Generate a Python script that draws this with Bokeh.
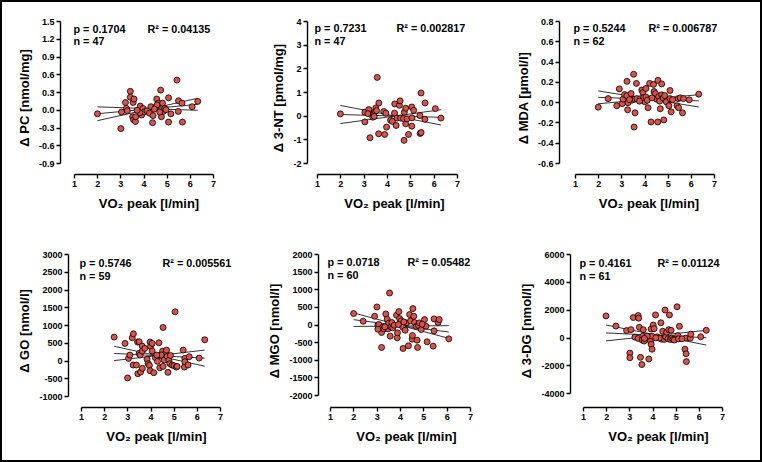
import numpy as np
from bokeh.plotting import figure
from bokeh.layouts import column, row
from bokeh.models import Label, Range1d, FixedTicker, NumeralTickFormatter
from bokeh.embed import file_html
from bokeh.resources import INLINE

FONT = "Liberation Sans"
RED = "#d9534a"

# ---------------- data ----------------
x_ticks = [1, 2, 3, 4, 5, 6, 7]
x_label = "VO₂ peak [l/min]"

pc_x = [1.99, 3.00, 3.03, 3.20, 3.24, 3.28, 3.41, 3.41, 3.53, 3.57, 3.51, 3.55, 3.63, 3.64, 3.84, 3.90,
        3.96, 4.01, 4.13, 4.24, 4.30, 4.37, 4.39, 4.50, 4.55, 4.62, 4.72, 4.75, 4.80, 4.83, 4.90, 5.06,
        5.06, 5.16, 5.42, 5.49, 5.48, 5.64, 5.66, 6.08, 6.32, 4.56, 4.45, 4.68, 3.82, 4.95, 3.70]
pc_y = [-0.06, -0.31, -0.03, 0.13, 0.03, -0.01, 0.32, 0.22, 0.13, 0.19, -0.11, -0.16, -0.19, -0.11, 0.07, -0.08,
        0.03, -0.03, -0.01, -0.05, 0.06, -0.21, -0.09, 0.05, 0.19, 0.12, 0.34, -0.11, 0.12, -0.02, 0.03, 0.21,
        -0.20, -0.06, 0.51, 0.16, -0.02, 0.12, -0.20, 0.06, 0.15, 0.09, 0.02, -0.03, -0.04, 0.01, 0.0]
pc_ticks = [-0.9, -0.6, -0.3, 0.0, 0.3, 0.6, 0.9, 1.2, 1.5]

nt_x = [1.98, 3.03, 3.03, 3.20, 3.25, 3.16, 3.37, 3.42, 3.47, 3.50, 3.53, 3.56, 3.63, 3.62, 3.84, 3.88,
        3.93, 3.96, 4.13, 4.21, 4.31, 4.30, 4.37, 4.41, 4.51, 4.54, 4.56, 4.69, 4.71, 4.72, 4.78, 4.78,
        4.84, 4.90, 5.04, 5.05, 5.04, 5.12, 5.39, 5.40, 5.44, 5.44, 5.61, 5.60, 6.05, 6.29, 3.43]
nt_y = [0.10, 0.17, -0.24, 0.28, -0.91, 0.11, -0.04, 0.11, 0.21, 0.35, 0.24, 1.64, 0.56, -0.74, 0.20, -0.77,
        0.13, -0.46, -0.17, -0.22, 0.52, 0.13, -0.39, -0.08, 0.46, 0.65, -0.08, -0.10, -1.02, 0.17, 0.34, -0.32,
        -0.11, -0.77, 0.39, -0.07, -0.42, 0.25, 0.03, -0.73, -0.69, 0.98, 0.56, -0.13, 0.32, -0.08, -0.01]
nt_ticks = [-2, -1, 0, 1, 2, 3, 4]

mda_x = [1.98, 2.41, 2.89, 2.78, 3.02, 3.05, 3.12, 3.22, 3.22, 3.25, 3.27, 3.40, 3.44, 3.51, 3.56, 3.57,
         3.53, 3.63, 3.65, 3.81, 3.86, 3.91, 3.93, 3.99, 3.94, 4.04, 4.04, 4.10, 4.13, 4.20, 4.26, 4.37,
         4.39, 4.45, 4.50, 4.55, 4.56, 4.59, 4.63, 4.66, 4.72, 4.72, 4.78, 4.81, 4.85, 4.92, 5.03, 5.08,
         5.08, 5.13, 5.38, 5.43, 5.45, 5.52, 5.62, 5.66, 5.91, 6.32, 5.19, 4.30, 3.33, 3.76]
mda_y = [-0.044, 0.04, 0.136, -0.03, -0.01, 0.035, 0.08, 0.07, 0.21, -0.07, 0.0, 0.09, 0.025, 0.28, 0.035, -0.10,
         -0.24, 0.19, 0.04, 0.04, 0.125, 0.10, 0.035, 0.01, 0.05, 0.055, 0.14, 0.025, -0.05, 0.19, -0.19, 0.18,
         0.11, 0.09, 0.035, -0.19, 0.22, 0.06, 0.015, -0.06, 0.185, 0.077, 0.047, -0.17, 0.07, 0.008, -0.03, 0.12,
         0.04, -0.09, -0.03, 0.04, -0.05, 0.048, -0.10, 0.04, 0.028, 0.084, 0.03, 0.048, 0.03, 0.015]
mda_ticks = [-0.6, -0.4, -0.2, 0.0, 0.2, 0.4, 0.6, 0.8]

go_x = [2.41, 2.88, 2.99, 3.03, 3.09, 3.19, 3.24, 3.23, 3.37, 3.42, 3.43, 3.49, 3.49, 3.53, 3.55, 3.62,
        3.63, 3.62, 3.83, 3.88, 3.93, 3.96, 3.96, 3.98, 4.05, 4.05, 4.12, 4.19, 4.28, 4.34, 4.38, 4.41,
        4.50, 4.52, 4.52, 4.57, 4.64, 4.67, 4.70, 4.73, 4.77, 4.81, 4.84, 4.91, 4.99, 5.04, 5.09, 5.13,
        5.39, 5.44, 5.46, 5.46, 5.60, 5.65, 6.08, 6.32, 4.44, 3.73, 4.25]
go_y = [674, 496, -475, 75, 169, 656, 768, -112, -112, 534, -356, 543, 215, 169, -309, 422,
        -206, 281, 47, -75, -122, 534, -272, 412, 496, 281, -328, 94, -9, 515, -187, 150,
        281, -150, 946, 28, 262, 309, 131, -318, 19, -75, 159, -112, -131, 1386, -168, -150,
        309, -168, 75, -19, -112, 122, 84, 599, 169, 356, 169]
go_ticks = [-1000, -500, 0, 500, 1000, 1500, 2000, 2500, 3000]

mgo_x = [1.99, 2.40, 2.89, 2.99, 3.03, 3.07, 3.19, 3.19, 3.23, 3.29, 3.37, 3.43, 3.47, 3.49, 3.53, 3.56,
         3.59, 3.63, 3.86, 3.87, 3.83, 3.93, 3.96, 3.99, 4.03, 4.06, 4.10, 4.11, 4.20, 4.26, 4.34, 4.39,
         4.43, 4.50, 4.51, 4.53, 4.57, 4.60, 4.67, 4.71, 4.73, 4.77, 4.81, 4.89, 5.03, 5.09, 5.14, 5.40,
         5.44, 5.44, 5.61, 5.66, 6.07, 3.67, 3.73, 3.33, 4.14, 4.93, 3.03, 3.91]
mgo_y = [325, 108, 249, 513, -5, 14, -635, -212, -71, -108, 315, 165, -108, 52, 908, -315,
         -52, 71, -362, -221, 278, 381, 184, 52, 118, -14, -61, -664, -146, 61, -588, 296,
         118, -400, -297, 466, 249, 71, -42, -428, -635, -14, 61, -127, 155, -33, -475, -598,
         174, -165, 71, 155, -391, -80, -5, -52, 89, 24, -118, 14]
mgo_ticks = [-2000, -1500, -1000, -500, 0, 500, 1000, 1500, 2000]

dg_x = [1.97, 2.40, 2.86, 3.05, 3.00, 3.00, 3.15, 3.22, 3.36, 3.38, 3.41, 3.36, 3.46, 3.52, 3.56, 3.53,
        3.58, 3.62, 3.82, 3.88, 3.89, 3.92, 3.92, 3.96, 3.96, 4.01, 4.05, 4.11, 4.18, 4.34, 4.37, 4.42,
        4.48, 4.52, 4.55, 4.59, 4.65, 4.68, 4.71, 4.75, 4.78, 4.81, 4.87, 4.92, 5.04, 5.07, 5.14, 5.10,
        5.38, 5.41, 5.43, 5.44, 5.61, 5.63, 6.06, 6.30, 3.75, 4.27, 4.12, 5.25, 3.63]
dg_y = [1593, 867, 539, 609, -1077, -1405, 1475, 70, 1616, 1429, 773, -23, -1382, -1897, 140, -140,
        609, -211, -1499, 23, -211, 656, -445, 140, -797, 937, 679, 1663, 93, 1101, -70, 492,
        -94, 2014, 93, 421, -47, 609, 1663, -94, 562, 0, -94, -140, 2248, 187, 843, -47,
        -797, 0, -1124, -1686, 0, 281, 93, 562, 140, 0, 23, -47, -23]
dg_ticks = [-4000, -2000, 0, 2000, 4000, 6000]

y_labels = ["Δ PC [nmol/mg]", "Δ 3-NT [pmol/mg]", "Δ MDA [µmol/l]",
            "Δ GO [nmol/l]", "Δ MGO [nmol/l]", "Δ 3-DG [nmol/l]"]
p_texts = ["p = 0.1704", "p = 0.7231", "p = 0.5244", "p = 0.5746", "p = 0.0718", "p = 0.4161"]
n_texts = ["n = 47", "n = 47", "n = 62", "n = 59", "n = 60", "n = 61"]
r2_texts = ["R² = 0.04135", "R² = 0.002817", "R² = 0.006787",
            "R² = 0.005561", "R² = 0.05482", "R² = 0.01124"]

series = [(pc_x, pc_y, pc_ticks, "0.0"), (nt_x, nt_y, nt_ticks, "0"), (mda_x, mda_y, mda_ticks, "0.0"),
          (go_x, go_y, go_ticks, "0"), (mgo_x, mgo_y, mgo_ticks, "0"), (dg_x, dg_y, dg_ticks, "0")]

# ---------------- layout (page pixels) ----------------
# col_x, row_y, fig_w, fig_h, frame_left, x_at_1, x_at_7, y_top, y_bottom_tick, x_axis_y,
# text_x, r2_x, base1, base2
geo = [
    (2, 2, 252, 229, 60, 74, 213, 21, 163, 174, 73, 147, 28, 40),
    (254, 2, 252, 229, 307, 317, 457, 20, 163, 174, 314, 396, 27, 40),
    (506, 2, 254, 229, 559, 575, 714, 20, 163, 174, 573, 648, 27, 40),
    (2, 231, 252, 229, 68, 81, 220, 253, 396, 407, 79, 162, 262, 275),
    (254, 231, 252, 229, 318, 330, 470, 254, 396, 408, 327, 407, 262, 275),
    (506, 231, 254, 229, 570, 583, 722, 253, 396, 410, 579, 657, 262, 275),
]

T_CRIT = 2.0


def make_panel(i):
    xs, ys, yticks, fmt = series[i]
    cx, ry, fw, fh, fl, x1, x7, yt, yb, xa, tx, rx, b1, b2 = geo[i]
    ppu = (x7 - x1) / 6.0
    fr = min(x7 + 24, cx + fw - 4)
    x_start = 1 - (x1 - fl) / ppu
    x_end = 7 + (fr - x7) / ppu
    ymin, ymax = yticks[0], yticks[-1]
    ppy = (yb - yt) / (ymax - ymin)
    y_start = ymin - (xa - yb) / ppy
    y_end = ymax

    p = figure(width=fw, height=fh, output_backend="svg", toolbar_location=None,
               x_range=Range1d(x_start, x_end), y_range=Range1d(y_start, y_end),
               min_border_left=fl - cx, min_border_right=cx + fw - fr,
               min_border_top=yt - ry, min_border_bottom=ry + fh - xa)
    p.outline_line_color = None
    p.grid.visible = False
    p.background_fill_color = "white"
    p.border_fill_color = "white"

    for ax in (p.xaxis[0], p.yaxis[0]):
        ax.axis_line_width = 1.4
        ax.axis_line_color = "black"
        ax.major_tick_line_width = 1.4
        ax.major_tick_line_color = "black"
        ax.major_tick_in = 0
        ax.major_tick_out = 4
        ax.minor_tick_line_color = None
        ax.major_label_text_font = FONT
        ax.major_label_text_font_style = "bold"
        ax.major_label_text_font_size = "9px"
        ax.major_label_text_color = "black"
        ax.major_label_standoff = 2
        ax.axis_label_text_font = FONT
        ax.axis_label_text_font_style = "bold"
        ax.axis_label_text_font_size = "13px"
        ax.axis_label_text_color = "black"

    p.xaxis.ticker = FixedTicker(ticks=x_ticks)
    p.xaxis.bounds = (x_ticks[0], x_ticks[-1])
    p.xaxis.axis_label = x_label
    p.xaxis.axis_label_standoff = 6

    p.yaxis.ticker = FixedTicker(ticks=yticks)
    p.yaxis.bounds = (ymin, ymax)
    p.yaxis.formatter = NumeralTickFormatter(format=fmt)
    p.yaxis.axis_label = y_labels[i]
    p.yaxis.axis_label_standoff = 4

    # regression line and 95% CI of slope (lines through centroid)
    x = np.array(xs, dtype=float)
    y = np.array(ys, dtype=float)
    xbar, ybar = x.mean(), y.mean()
    sxx = ((x - xbar) ** 2).sum()
    b = ((x - xbar) * (y - ybar)).sum() / sxx
    resid = y - (ybar + b * (x - xbar))
    se = np.sqrt((resid ** 2).sum() / (len(x) - 2) / sxx)
    xe = np.array([x.min(), x.max()])
    for slope in (b, b - T_CRIT * se, b + T_CRIT * se):
        p.line(xe, ybar + slope * (xe - xbar), line_color="black", line_width=0.8)

    p.scatter(xs, ys, size=6, fill_color=RED, line_color="black", line_width=0.8)

    def dx(px):
        return x_start + (px - fl) / ppu

    def dy(py):
        return y_end - (py - yt) / ppy

    for txt, px, py in ((p_texts[i], tx, b1), (n_texts[i], tx, b2), (r2_texts[i], rx, b1)):
        p.add_layout(Label(x=dx(px), y=dy(py), text=txt, text_font=FONT, text_font_style="bold",
                           text_font_size="10.8px", text_color="black",
                           text_align="left", text_baseline="alphabetic"))
    return p


plots = [make_panel(i) for i in range(6)]
layout = column(row(*plots[:3]), row(*plots[3:]), styles={"border": "2px solid black"})

with open("out.html", "w") as f:
    f.write(file_html(layout, INLINE))
